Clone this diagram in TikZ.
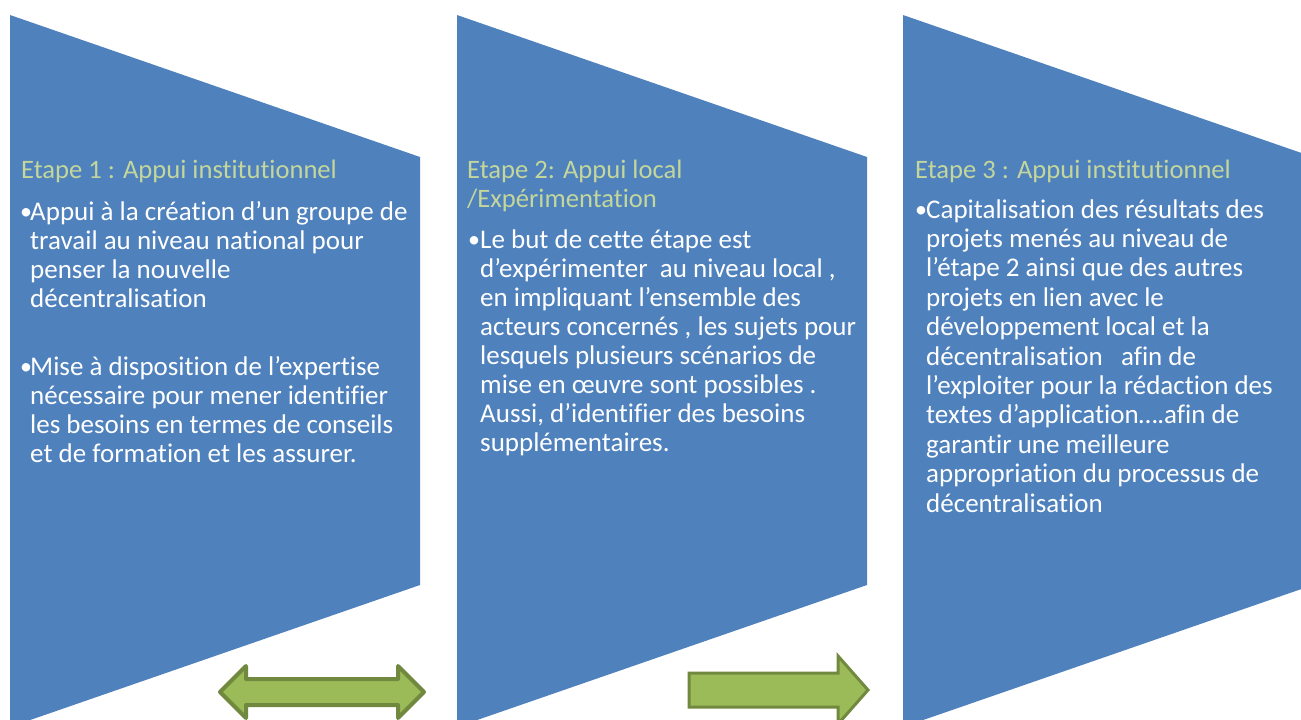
\documentclass[tikz,border=0pt]{standalone}
\usepackage{fontspec}
\setmainfont{Carlito}[Ligatures={NoCommon,NoRequired,NoContextual}]
\definecolor{stepblue}{HTML}{4F81BD}
\definecolor{titlegreen}{HTML}{C3D69B}
\definecolor{arrowfill}{HTML}{9BBB59}
\definecolor{arrowline}{HTML}{71893F}
\tikzset{
  stagebox/.style={fill=stepblue, draw=none},
  ttl/.style={anchor=base west, inner sep=0pt, text=titlegreen, font=\fontsize{26.6}{29}\selectfont},
  txt/.style={anchor=base west, inner sep=0pt, text=white, font=\fontsize{27}{29}\selectfont},
  bul/.style={anchor=base west, inner sep=0pt, text=white, font=\fontsize{24}{29}\selectfont},
  greenarrow/.style={fill=arrowfill, draw=arrowline},
}
\begin{document}
\begin{tikzpicture}[x=1pt,y=-1pt]
\useasboundingbox (0,0) rectangle (1301,720);
\clip (0,0) rectangle (1301,720);
% stage shapes
\fill[stagebox] (10,15) -- (420,157) -- (420,585) -- (10,727) -- cycle;
\fill[stagebox] (457,15) -- (867,157) -- (867,585) -- (457,727) -- cycle;
\fill[stagebox] (903,15) -- (1313,157) -- (1313,585) -- (903,727) -- cycle;
% arrows
\draw[greenarrow, line width=4pt, line join=round]
  (220,692) -- (246,666) -- (246,679) -- (398,679) -- (398,666) -- (424,692)
  -- (398,718) -- (398,705) -- (246,705) -- (246,718) -- cycle;
\draw[greenarrow, line width=3pt, line join=miter]
  (689,673) -- (838,673) -- (838,656) -- (868,690) -- (838,724) -- (838,707)
  -- (689,707) -- cycle;
% stage 1
\node[ttl] (t1) at (21,178) {Etape 1 : Appui institutionnel};
\node[bul] (b1a) at (20,219) {•};
\foreach \t [count=\i] in {Appui à la création d’un groupe de, travail au niveau national pour, penser la nouvelle, décentralisation}
  \node[txt] (s1a\i) at (30,{220+(\i-1)*29}) {\t};
\node[bul] (b1b) at (20,374) {•};
\foreach \t [count=\i] in {Mise à disposition de l’expertise, nécessaire pour mener identifier, les besoins en termes de conseils, et de formation et les assurer.}
  \node[txt] (s1b\i) at (30,{375+(\i-1)*29}) {\t};
% stage 2
\node[ttl] (t2a) at (467,178) {Etape 2: Appui local};
\node[ttl] (t2b) at (467,207) {/Expérimentation};
\node[bul] (b2) at (468,247) {•};
\foreach \t [count=\i] in {Le but de cette étape est, {d’expérimenter\ \ au niveau local ,}, {en impliquant l’ensemble des}, {acteurs concernés , les sujets pour}, lesquels plusieurs scénarios de, mise en œuvre sont possibles ., {Aussi, d’identifier des besoins}, supplémentaires.}
  \node[txt] (s2\i) at (480,{248+(\i-1)*29.1}) {\t};
% stage 3
\node[ttl] (t3) at (915,178) {Etape 3 : Appui institutionnel};
\node[bul] (b3) at (915,217) {•};
\foreach \t [count=\i] in {Capitalisation des résultats des, projets menés au niveau de, l’étape 2 ainsi que des autres, projets en lien avec le, développement local et la, {décentralisation\ \ \ afin de}, l’exploiter pour la rédaction des, textes d’application….afin de, garantir une meilleure, appropriation du processus de, décentralisation}
  \node[txt] (s3\i) at (926,{218+(\i-1)*29.4}) {\t};
\end{tikzpicture}
\end{document}
